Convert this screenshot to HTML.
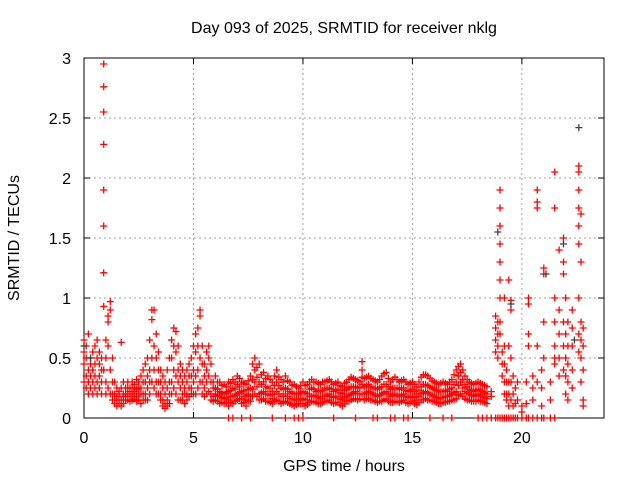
<!DOCTYPE html>
<html><head><meta charset="utf-8"><style>
body{margin:0;background:#fff}
svg{display:block;font-family:"Liberation Sans",sans-serif}
</style></head><body>
<svg id="chart" width="640" height="480">
<rect width="640" height="480" fill="#fff"/>
<g id="grid"></g>
<g id="axes"></g>
<g id="pts"></g>
<text x="344" y="33" font-size="16" text-anchor="middle">Day 093 of 2025, SRMTID for receiver nklg</text>
<text x="344" y="471" font-size="16" text-anchor="middle">GPS time / hours</text>
<text transform="translate(19,238) rotate(-90)" font-size="16" text-anchor="middle">SRMTID / TECUs</text>
</svg>
<script>
const xTicks=[0,5,10,15,20];
const yTicks=[0,0.5,1,1.5,2,2.5,3];
const yTickLabels=["0","0.5","1","1.5","2","2.5","3"];
const rows=[
[0.0,.65,.45,.3,.55],[0.1,.6,.35,.25,.5],[0.2,.7,.4,.3,.2],[0.3,.5,.35,.25,.45],[0.4,.55,.3,.2,.4],[0.5,.6,.45,.25,.35],[0.6,.5,.3,.2,.65],[0.7,.45,.35,.25,.55],[0.8,.4,.3,.2,.5],
[0.9,2.95,2.76,2.55,2.28,1.9,1.6,1.21,.93,.4],[1.0,.65,.5,.3,.2],[1.1,.85,.8,.6,.25],[1.2,.97,.9,.4,.2],[1.3,.5,.3,.15,.2],[1.4,.3,.2,.12,.15],[1.5,.25,.15,.1,.18],[1.6,.2,.12,.15,.22],[1.7,.63,.25,.15,.1],[1.8,.3,.2,.12,.18],[1.9,.25,.18,.15,.2],
[2.0,.3,.2,.15,.25],[2.1,.25,.18,.22,.14],[2.2,.3,.2,.15,.25],[2.3,.28,.2,.16,.22],[2.4,.32,.24,.18,.14],[2.5,.25,.2,.15,.3],[2.6,.35,.25,.12,.2],[2.7,.3,.2,.15,.4],[2.8,.45,.3,.2,.15],[2.9,.5,.35,.25,.15],
[3.0,.65,.4,.3,.2],[3.1,.9,.82,.5,.3],[3.2,.9,.6,.4,.25],[3.3,.7,.5,.3,.2],[3.4,.55,.4,.3,.2],[3.5,.4,.3,.2,.15],[3.6,.35,.25,.15,.1],[3.7,.3,.2,.12,.08],[3.8,.4,.25,.15,.1],[3.9,.5,.3,.2,.12],
[4.0,.65,.5,.3,.2],[4.1,.75,.6,.4,.25],[4.2,.72,.55,.35,.2],[4.3,.6,.4,.3,.15],[4.4,.45,.35,.25,.15],[4.5,.4,.3,.2,.15],[4.6,.35,.25,.2,.12],[4.7,.4,.3,.2,.15],[4.8,.45,.35,.25,.18],[4.9,.5,.35,.25,.2],
[5.0,.6,.4,.3,.2],[5.1,.7,.55,.35,.2],[5.2,.75,.6,.4,.25],[5.3,.9,.85,.5,.3],[5.4,.6,.45,.3,.2],[5.5,.45,.35,.25,.18],[5.6,.55,.4,.3,.2],[5.7,.6,.5,.35,.22],[5.8,.45,.3,.2,.15],[5.9,.3,.25,.18,.14],
[6.0,.35,.25,.2,.15],[6.1,.3,.24,.19,.14],[6.2,.3,.22,.18,.12],[6.3,.27,.21,.17,.13],[6.4,.28,.2,.16,.12],[6.5,.26,.21,.17,.13],[6.6,.3,.22,.15,.1,0],[6.7,.29,.23,.18,.13],[6.8,.32,.25,.18,.12,0],[6.9,.3,.24,.19,.14],
[7.0,.35,.28,.2,.15],[7.1,.33,.26,.21,.16],[7.2,.3,.22,.16,.12,0],[7.3,.29,.23,.18,.13],[7.4,.28,.2,.15,.1],[7.5,.31,.24,.19,.14],[7.6,.35,.25,.18,.14,0],[7.7,.45,.32,.24,.18],[7.8,.5,.4,.3,.2],[7.9,.42,.34,.26,.18],
[8.0,.45,.3,.2,.15],[8.1,.36,.28,.21,.15],[8.2,.38,.3,.22,.16],[8.3,.33,.26,.2,.14],[8.4,.35,.25,.2,.14],[8.5,.32,.25,.19,.13],[8.6,.3,.22,.16,.12,0],[8.7,.35,.27,.2,.14],[8.8,.4,.3,.22,.15],[8.9,.34,.27,.2,.14],
[9.0,.32,.25,.18,.12],[9.1,.3,.24,.18,.13],[9.2,.35,.25,.2,.14,0],[9.3,.31,.24,.18,.13],[9.4,.3,.22,.16,.12],[9.5,.27,.21,.16,.11],[9.6,.28,.2,.15,.1,0],[9.7,.26,.2,.15,.11],[9.8,.25,.2,.15,.12,0],[9.9,.27,.21,.16,.12],
[10.0,.3,.22,.16,.12,0],[10.1,.27,.21,.15,.1],[10.2,.28,.2,.15,.11],[10.3,.3,.24,.18,.13],[10.4,.32,.25,.18,.14],[10.5,.3,.24,.19,.14],[10.6,.3,.22,.18,.13],[10.7,.29,.23,.17,.12],[10.8,.28,.22,.16,.12],[10.9,.3,.23,.18,.13],
[11.0,.3,.24,.18,.14],[11.1,.31,.25,.19,.14],[11.2,.32,.25,.2,.15],[11.3,.3,.24,.18,.13],[11.4,.28,.22,.17,.12,0],[11.5,.29,.23,.18,.13],[11.6,.3,.24,.18,.13],[11.7,.27,.21,.16,.11],[11.8,.26,.2,.15,.1],[11.9,.29,.23,.17,.12],
[12.0,.3,.24,.18,.14],[12.1,.32,.25,.19,.14],[12.2,.34,.26,.2,.15],[12.3,.33,.26,.21,.16],[12.4,.32,.26,.22,.16,0],[12.5,.31,.25,.2,.15],[12.6,.3,.25,.2,.16],[12.7,.47,.4,.34,.28,.2],[12.8,.33,.26,.2,.15],[12.9,.34,.27,.21,.16],
[13.0,.35,.28,.22,.16],[13.1,.33,.26,.21,.15],[13.2,.32,.25,.2,.15,0],[13.3,.31,.25,.19,.14],[13.4,.3,.24,.18,.13,0],[13.5,.32,.25,.19,.14],[13.6,.35,.26,.2,.14],[13.7,.37,.28,.21,.15],[13.8,.38,.28,.22,.16],[13.9,.33,.26,.2,.14],
[14.0,.3,.24,.18,.13,0],[14.1,.32,.25,.19,.13],[14.2,.34,.25,.2,.14,0],[14.3,.32,.25,.19,.14],[14.4,.3,.24,.18,.13],[14.5,.31,.25,.19,.14],[14.6,.32,.25,.2,.15,0],[14.7,.3,.23,.18,.13],[14.8,.28,.22,.17,.12,0],[14.9,.29,.23,.18,.13],
[15.0,.3,.24,.18,.14],[15.1,.28,.22,.17,.12],[15.2,.26,.2,.15,.11],[15.3,.3,.23,.18,.13],[15.4,.34,.26,.2,.15],[15.5,.36,.28,.21,.15],[15.6,.36,.28,.22,.16],[15.7,.35,.27,.21,.15],[15.8,.33,.26,.2,.15,0],[15.9,.31,.25,.19,.14],
[16.0,.3,.24,.18,.14],[16.1,.29,.23,.17,.13],[16.2,.28,.22,.16,.12],[16.3,.29,.22,.17,.12],[16.4,.3,.22,.17,.13,0],[16.5,.29,.23,.18,.13],[16.6,.28,.22,.18,.14],[16.7,.3,.24,.19,.14],[16.8,.32,.25,.2,.15,0],[16.9,.36,.28,.21,.15],
[17.0,.4,.3,.22,.16],[17.1,.43,.35,.27,.19],[17.2,.45,.38,.3,.2],[17.3,.4,.32,.25,.18],[17.4,.35,.28,.22,.16],[17.5,.32,.26,.21,.15],[17.6,.3,.24,.2,.15],[17.7,.29,.23,.19,.14],[17.8,.28,.22,.18,.14],[17.9,.29,.23,.19,.14],
[18.0,.3,.24,.2,.15,0],[18.1,.29,.23,.19,.14],[18.2,.28,.22,.18,.14,0],[18.3,.27,.21,.17,.13],[18.4,.26,.2,.16,.12,0],[18.6,.22,.18,0],[18.8,.85,.75,.65,.55,0],[18.9,.8,.7,.6,.5,0],[19.0,1.9,1.75,1.6,1.45,1.3,1.15,1.0,.8,.7,0],[19.1,.55,.45,.35,0],[19.2,1.0,.6,.45,.3,.2,0],[19.3,.4,.3,.2,.15,0],[19.4,1.15,.6,.3,.2,.1,0],[19.5,.98,.9,.5,.3,.15,0],[19.6,.35,.2,.1,0],[19.7,.25,.12,0],[19.8,.3,.15,0],
[20.0,.1,.05,0],[20.2,.3,.12,0],[20.3,1.0,.95,.7,.6,0],[20.5,.35,.25,.15,0],[20.7,1.9,1.8,1.75,.6,.3,0],[20.9,.4,.25,.1,0],[21.0,1.25,1.2,.8,.5,0],[21.3,.3,.15,0],[21.5,2.05,1.75,1.0,.8,.6,.5,.45,0],[21.7,1.4,.9,.7,.5,.35],[21.9,1.5,1.3,1.2,.8,.6,.4],[22.0,1.0,.7,.5,.35,.2],
[22.1,.8,.6,.45,.3,.15],[22.3,.9,.75,.6,.4,.25],[22.6,2.1,2.05,1.9,1.75,1.6,1.45,1.0,.7,.55],[22.7,1.7,1.3,.8,.65,.5,.3],[22.8,.75,.6,.4,.15,.1]
];
const blackTimes=[0.0,0.3,18.9,19.5,21.1,21.9,22.6,22.4];
const blackValues=[0.6,0.5,1.55,0.95,1.2,1.45,2.42,0.65];

const L=84,R=604,T=58,B=418,XMAX=23.75,YMAX=3;
const xs=v=>L+(R-L)*v/XMAX, ys=v=>B-(B-T)*v/YMAX;
const NS="http://www.w3.org/2000/svg";
function mk(tag,attrs,parent){const e=document.createElementNS(NS,tag);for(const k in attrs)e.setAttribute(k,attrs[k]);parent.appendChild(e);return e;}
const grid=document.getElementById('grid'),axes=document.getElementById('axes'),pts=document.getElementById('pts');
xTicks.forEach(t=>{const x=xs(t);
 if(t>0){const g=mk('line',{x1:x,x2:x,y1:T,y2:B,stroke:'#a0a0a0','stroke-dasharray':'2,3'},grid);
 
 }
 mk('line',{x1:x,x2:x,y1:B,y2:B-6,stroke:'#000'},axes);
 mk('line',{x1:x,x2:x,y1:T,y2:T+6,stroke:'#000'},axes);
 const l=mk('text',{x:x,y:B+25,'font-size':16,'text-anchor':'middle'},axes);l.textContent=t;
 
 
});
yTicks.forEach((t,i)=>{const y=ys(t);
 if(t>0&&t<3){const g=mk('line',{x1:L,x2:R,y1:y,y2:y,stroke:'#a0a0a0','stroke-dasharray':'2,3'},grid);
 
 }
 mk('line',{x1:L,x2:L+6,y1:y,y2:y,stroke:'#000'},axes);
 mk('line',{x1:R,x2:R-6,y1:y,y2:y,stroke:'#000'},axes);
 const l=mk('text',{x:L-13,y:y+6,'font-size':16,'text-anchor':'end'},axes);l.textContent=yTickLabels[i];
 
 
});
const border=mk('rect',{x:L,y:T,width:R-L,height:B-T,fill:'none',stroke:'#000'},axes);


function plus(t,v,col){const x=xs(t),y=ys(v);
 const p=mk('path',{d:`M${x-3.5},${y}H${x+3.5}M${x},${y-3.5}V${y+3.5}`,stroke:col,'stroke-width':1.3,fill:'none'},pts);
 
 
}
rows.forEach(r=>{for(let i=1;i<r.length;i++)plus(r[0],r[i],'#ff0000');});
blackTimes.forEach((t,i)=>plus(t,blackValues[i],'#404040'));
</script>
</body></html>
